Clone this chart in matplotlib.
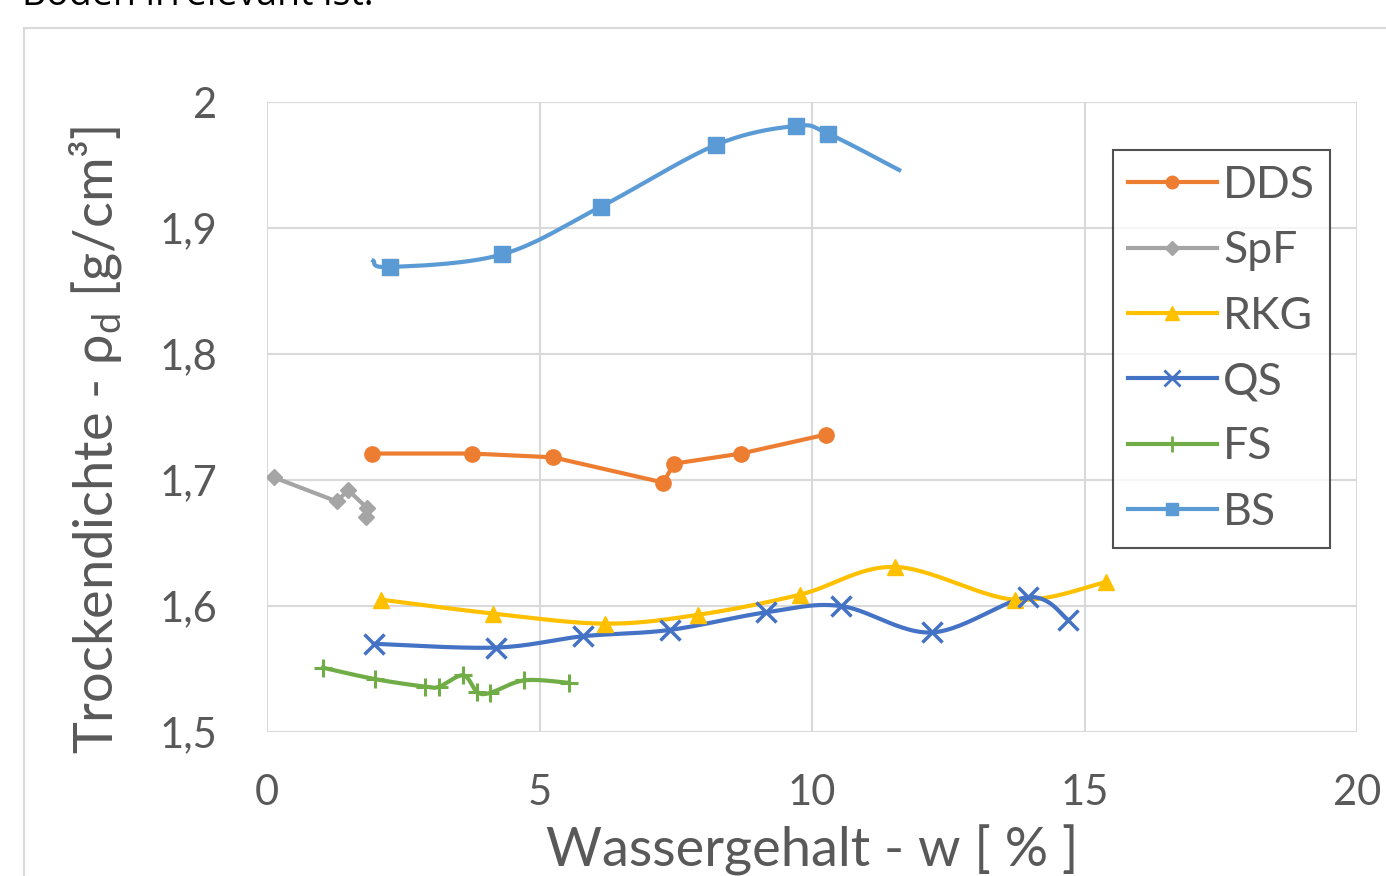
import numpy as np
import matplotlib.pyplot as plt
from matplotlib.patches import Rectangle
from matplotlib.lines import Line2D
from matplotlib.ticker import FuncFormatter

plt.rcParams['font.family'] = ['Lato', 'DejaVu Sans']
plt.rcParams['mathtext.fontset'] = 'custom'
plt.rcParams['mathtext.rm'] = 'Lato'

# Messwerte (Wassergehalt w in %, Trockendichte in g/cm3)
dds_w = [1.93, 3.76, 5.25, 7.27, 7.47, 8.70, 10.25]
dds_rho = [1.721, 1.721, 1.718, 1.698, 1.713, 1.721, 1.736]

spf_w = [0.13, 1.28, 1.49, 1.83, 1.82]
spf_rho = [1.702, 1.683, 1.692, 1.678, 1.671]

rkg_w = [2.10, 4.15, 6.20, 7.91, 9.78, 11.52, 13.72, 15.39]
rkg_rho = [1.605, 1.594, 1.586, 1.593, 1.609, 1.631, 1.605, 1.619]

qs_w = [1.96, 4.20, 5.80, 7.39, 9.16, 10.53, 12.20, 13.96, 14.70]
qs_rho = [1.570, 1.567, 1.576, 1.581, 1.595, 1.600, 1.579, 1.607, 1.589]

fs_w = [1.03, 1.98, 2.90, 3.16, 3.60, 3.85, 4.09, 4.72, 5.54]
fs_rho = [1.551, 1.542, 1.536, 1.536, 1.545, 1.532, 1.531, 1.541, 1.539]

bs_w = [1.95, 2.26, 4.31, 6.13, 8.24, 9.71, 10.29, 11.60]
bs_rho = [1.874, 1.869, 1.879, 1.917, 1.966, 1.981, 1.975, 1.946]

x_ticks = [0, 5, 10, 15, 20]
y_ticks = [1.5, 1.6, 1.7, 1.8, 1.9, 2.0]

grey_txt = '#595959'


def smooth(x, y, n=30):
    # Bezier-Glaettung wie in Excel (Catmull-Rom)
    p = np.column_stack([x, y])
    p = np.vstack([p[0], p, p[-1]])
    t = np.linspace(0, 1, n)[:, None]
    out = []
    for i in range(1, len(p) - 2):
        p0, p1, p2, p3 = p[i - 1], p[i], p[i + 1], p[i + 2]
        c1 = p1 + (p2 - p0) / 6
        c2 = p2 - (p3 - p1) / 6
        seg = (1 - t) ** 3 * p1 + 3 * (1 - t) ** 2 * t * c1 + 3 * (1 - t) * t ** 2 * c2 + t ** 3 * p2
        out.append(seg)
    s = np.vstack(out)
    return s[:, 0], s[:, 1]


fig = plt.figure(figsize=(13.86, 8.76), dpi=100)
ax = fig.add_axes([267 / 1386, 1 - 732 / 876, 1090 / 1386, 630 / 876])

# aeusserer Rahmen des Diagramms
fig.patches.append(Rectangle((24 / 1386, -0.1), 1.2, 1 - 28 / 876 + 0.1, transform=fig.transFigure,
                             fill=False, edgecolor='#d9d9d9', lw=1.5))

fig.text(22 / 1386, 1 - 5 / 876, 'Boden irrelevant ist.', fontsize=27, color='black',
         va='baseline', family=['Open Sans', 'DejaVu Sans'])

lw = 3
ax.plot(dds_w, dds_rho, color='#ED7D31', lw=lw, marker='o', ms=11, label='DDS', zorder=3)
ax.plot(spf_w, spf_rho, color='#A5A5A5', lw=lw, marker='D', ms=8.5, label='SpF', zorder=3)

sx, sy = smooth(rkg_w, rkg_rho)
ax.plot(sx, sy, color='#FFC000', lw=lw, zorder=3)
ax.plot(rkg_w, rkg_rho, ls='none', color='#FFC000', marker='^', ms=12, zorder=4)

sx, sy = smooth(qs_w, qs_rho)
ax.plot(sx, sy, color='#4472C4', lw=lw, zorder=3)
ax.plot(qs_w, qs_rho, ls='none', color='#4472C4', marker='x', ms=14, mew=2.5, zorder=4)

sx, sy = smooth(fs_w, fs_rho)
ax.plot(sx, sy, color='#70AD47', lw=lw, zorder=3)
ax.plot(fs_w, fs_rho, ls='none', color='#70AD47', marker='+', ms=13, mew=2.2, zorder=4)

sx, sy = smooth(bs_w, bs_rho)
ax.plot(sx, sy, color='#5B9BD5', lw=lw, zorder=3)
ax.plot(bs_w[1:-1], bs_rho[1:-1], ls='none', color='#5B9BD5', marker='s', ms=11, zorder=4)

ax.set_xlim(0, 20)
ax.set_ylim(1.5, 2.0)
ax.set_xticks(x_ticks)
ax.set_yticks(y_ticks)
ax.yaxis.set_major_formatter(FuncFormatter(lambda v, p: ('%g' % round(v, 1)).replace('.', ',')))
ax.grid(True, color='#d9d9d9', lw=1.5)
ax.set_axisbelow(True)
for s in ax.spines.values():
    s.set_visible(False)
ax.tick_params(length=0, labelsize=30, labelcolor=grey_txt)
ax.tick_params(axis='x', pad=30)
ax.tick_params(axis='y', pad=36)

fig.text(812 / 1386, 1 - 866 / 876, 'Wassergehalt - w [ % ]', ha='center', va='baseline',
         fontsize=39, color=grey_txt)
fig.text(96 / 1386, 1 - 440 / 876, r'Trockendichte - ρ$_\mathregular{d}$ [g/cm³]', ha='center',
         va='center', rotation=90, fontsize=39, color=grey_txt)

# Legende
handles = [
    Line2D([], [], color='#ED7D31', lw=lw, marker='o', ms=9),
    Line2D([], [], color='#A5A5A5', lw=lw, marker='D', ms=7),
    Line2D([], [], color='#FFC000', lw=lw, marker='^', ms=10),
    Line2D([], [], color='#4472C4', lw=lw, marker='x', ms=11, mew=2),
    Line2D([], [], color='#70AD47', lw=lw, marker='+', ms=11, mew=2),
    Line2D([], [], color='#5B9BD5', lw=lw, marker='s', ms=9),
]
leg = fig.legend(handles, ['DDS', 'SpF', 'RKG', 'QS', 'FS', 'BS'], loc='upper left',
                 bbox_to_anchor=(1113 / 1386, 1 - 150 / 876), fontsize=32, frameon=True,
                 fancybox=False, edgecolor='#262626', handlelength=2.0, handletextpad=0.15,
                 labelspacing=0.55, borderpad=0.33, borderaxespad=0)
leg.get_frame().set_linewidth(1.5)
for t in leg.get_texts():
    t.set_color(grey_txt)

fig.savefig('out.png', dpi=100)
